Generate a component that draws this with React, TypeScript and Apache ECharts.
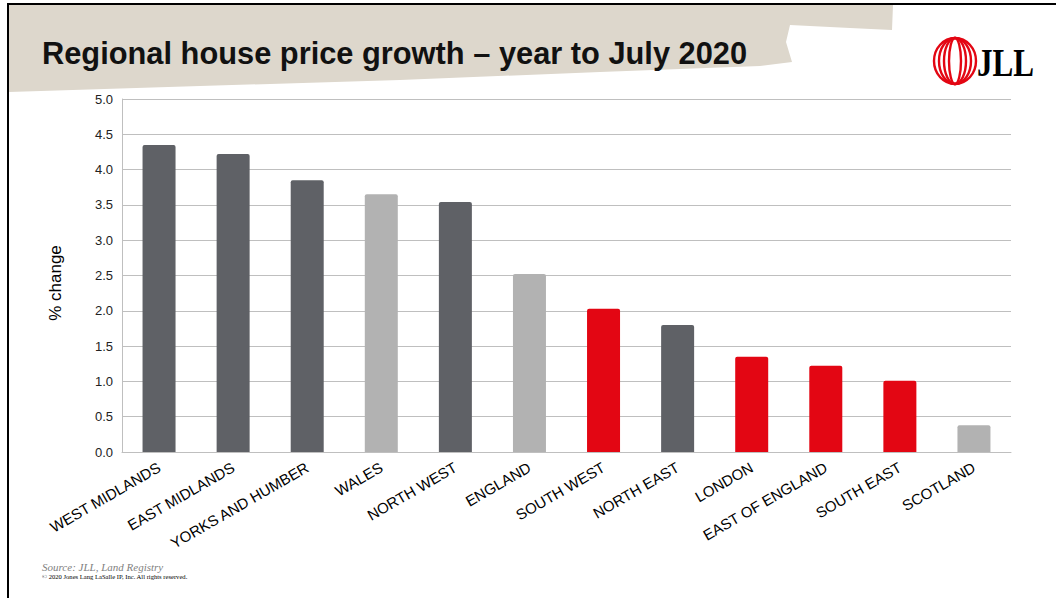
import React, { useEffect, useRef } from "react";
import * as echarts from "echarts";

const categories = [
  "WEST MIDLANDS",
  "EAST MIDLANDS",
  "YORKS AND HUMBER",
  "WALES",
  "NORTH WEST",
  "ENGLAND",
  "SOUTH WEST",
  "NORTH EAST",
  "LONDON",
  "EAST OF ENGLAND",
  "SOUTH EAST",
  "SCOTLAND",
];
const values = [4.35, 4.22, 3.85, 3.65, 3.54, 2.52, 2.03, 1.8, 1.35, 1.22, 1.01, 0.38];
// group: 0 = dark grey (north/midlands), 1 = light grey (nations/benchmark), 2 = red (south)
const groups = [0, 0, 0, 1, 0, 1, 2, 0, 2, 2, 2, 1];
const groupColors = ["#5f6166", "#b2b2b2", "#e30613"];

const titleText = "Regional house price growth \u2013 year to July 2020";
const yAxisTitle = "% change";
const sourceText = "Source: JLL, Land Registry";
const copyrightText = "\u00a9 2020 Jones Lang LaSalle IP, Inc. All rights reserved.";

export default function App() {
  const ref = useRef<HTMLDivElement>(null);

  useEffect(() => {
    if (!ref.current) return;
    const chart = echarts.init(ref.current, undefined, { renderer: "svg" });
    const red = "#e30613";
    const ringRx = [21, 16, 11, 6];
    const rings = ringRx.map((rx) => ({
      type: "ellipse",
      shape: { cx: 955, cy: 61, rx, ry: 23 },
      style: { fill: "none", stroke: red, lineWidth: 2.4 },
    }));
    chart.setOption({
      animation: false,
      backgroundColor: "#ffffff",
      grid: { left: 122, right: 45, top: 99, bottom: 146, containLabel: false },
      xAxis: {
        type: "category",
        data: categories,
        axisLine: { show: true, lineStyle: { color: "#bfbfbf", width: 1 } },
        axisTick: { show: false },
        axisLabel: {
          interval: 0,
          rotate: 30,
          margin: 14,
          fontSize: 15,
          color: "#000000",
          fontFamily: "Liberation Sans, Arial, sans-serif",
        },
      },
      yAxis: {
        type: "value",
        min: 0,
        max: 5,
        interval: 0.5,
        axisLine: { show: true, lineStyle: { color: "#bfbfbf", width: 1 } },
        axisTick: { show: false },
        splitLine: { show: true, lineStyle: { color: "#bfbfbf", width: 1 } },
        axisLabel: {
          margin: 9,
          fontSize: 13,
          color: "#222222",
          fontFamily: "Liberation Sans, Arial, sans-serif",
          formatter: (v: number) => v.toFixed(1),
        },
      },
      series: [
        {
          type: "bar",
          barWidth: 33,
          data: values.map((v, i) => ({
            value: v,
            itemStyle: { color: groupColors[groups[i]], borderRadius: [2, 2, 0, 0] },
          })),
        },
      ],
      graphic: [
        {
          type: "polygon",
          z: -10,
          silent: true,
          shape: {
            points: [
              [9, 5],
              [893, 5],
              [892, 30],
              [850, 28],
              [790, 25],
              [786, 42],
              [792, 62],
              [760, 66],
              [600, 72],
              [400, 80],
              [200, 86],
              [9, 92],
            ],
          },
          style: { fill: "#ddd7cc" },
        },
        {
          type: "line",
          shape: { x1: 8, y1: 4, x2: 1056, y2: 4 },
          style: { stroke: "#000000", lineWidth: 2 },
        },
        {
          type: "line",
          shape: { x1: 8, y1: 3, x2: 8, y2: 598 },
          style: { stroke: "#000000", lineWidth: 2 },
        },
        {
          type: "text",
          x: 42,
          y: 53,
          style: {
            text: titleText,
            fill: "#111111",
            font: "bold 30.8px 'Liberation Sans', Arial, sans-serif",
            textAlign: "left",
            textVerticalAlign: "middle",
          },
        },
        ...rings,
        {
          type: "text",
          x: 977,
          y: 62,
          scaleX: 0.76,
          style: {
            text: "JLL",
            fill: "#000000",
            font: "bold 41px 'Liberation Serif', 'Times New Roman', serif",
            textAlign: "left",
            textVerticalAlign: "middle",
          },
        },
        {
          type: "text",
          x: 55,
          y: 283,
          rotation: Math.PI / 2,
          style: {
            text: yAxisTitle,
            fill: "#000000",
            font: "17px 'Liberation Sans', Arial, sans-serif",
            textAlign: "center",
            textVerticalAlign: "middle",
          },
        },
        {
          type: "text",
          x: 42,
          y: 567,
          style: {
            text: sourceText,
            fill: "#7f7f7f",
            font: "italic 11px 'Liberation Serif', 'Times New Roman', serif",
            textAlign: "left",
            textVerticalAlign: "middle",
          },
        },
        {
          type: "text",
          x: 42,
          y: 576,
          style: {
            text: copyrightText,
            fill: "#000000",
            font: "6.6px 'Liberation Serif', 'Times New Roman', serif",
            textAlign: "left",
            textVerticalAlign: "middle",
          },
        },
      ],
    });
    return () => chart.dispose();
  }, []);

  return (
    <div
      ref={ref}
      style={{ position: "fixed", left: 0, top: 0, width: 1056, height: 598 }}
    />
  );
}
